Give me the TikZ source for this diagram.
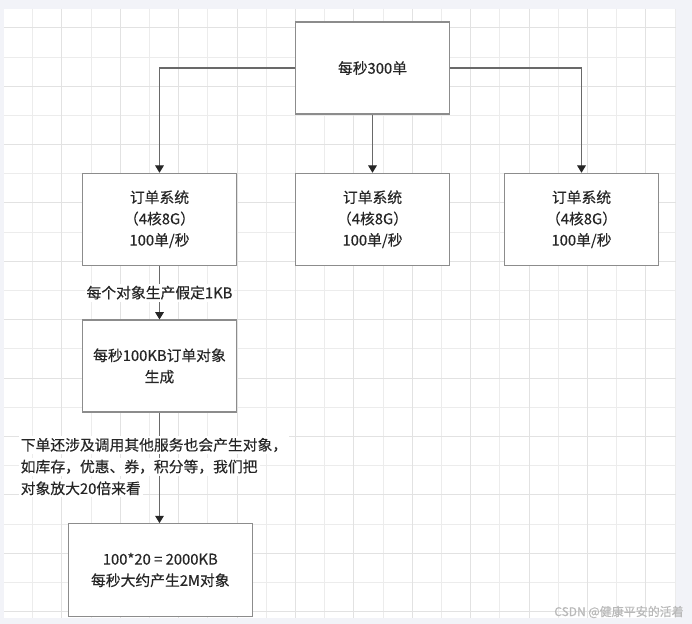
\documentclass[tikz,border=0pt]{standalone}
\usepackage{fontspec}
\setmainfont{Noto Sans CJK SC}[FakeBold=0.35]
\usepackage{tikz}
\usetikzlibrary{arrows.meta, positioning}
\definecolor{pagebg}{RGB}{242,243,248}
\definecolor{gridmin}{RGB}{236,236,236}
\definecolor{gridmaj}{RGB}{226,226,226}
\definecolor{boxline}{RGB}{140,140,140}
\definecolor{flowline}{RGB}{105,105,105}
\definecolor{txt}{RGB}{38,38,38}

\begin{document}
\begin{tikzpicture}[
    x=0.75pt, y=-0.75pt,
    every node/.style={font=\fontsize{11.1pt}{16pt}\selectfont, text=txt},
    box/.style={rectangle, draw=boxline, line width=0.8pt, fill=white, minimum width=115.5pt, minimum height=69pt, align=center, inner sep=2pt},
    lbl/.style={fill=white, inner sep=1.5pt, align=left},
    flow/.style={draw=flowline, line width=0.8pt, -{Triangle[length=5.5pt, width=6.5pt, color=txt]}},
    gridline/.style={line width=0.9pt},
]
% Canvas and grid
\useasboundingbox (0,0) rectangle (692,624);
\fill[pagebg] (0,0) rectangle (692,624);
\fill[white] (4,9) rectangle (676,618);
\foreach \k in {0,...,11} {\draw[gridline, gridmin] ({round(32.2+58.4*\k)+0.5},9) -- ++(0,609);}
\foreach \k in {0,...,9} {\draw[gridline, gridmin] (4,{round(56.5+58.4*\k)+0.5}) -- ++(672,0);}
\foreach \k in {1,...,11} {\draw[gridline, gridmaj] ({round(3+58.4*\k)+0.5},9) -- ++(0,609);}
\foreach \k in {0,...,10} {\draw[gridline, gridmaj] (4,{round(27.3+58.4*\k)+0.5}) -- ++(672,0);}

% Main flow
\node[box] (total) at (372.5,68) {每秒300单};
\node[box] (sys1) at (159.5,219.3) {订单系统\\（4核8G）\\100单/秒};
\node[box] (sys2) at (372.5,219.3) {订单系统\\（4核8G）\\100单/秒};
\node[box] (sys3) at (581.5,219.3) {订单系统\\（4核8G）\\100单/秒};
\node[box] (gen) at (159.5,366) {每秒100KB订单对象\\生成};
\node[box, minimum width=138pt, minimum height=69.5pt] (scaled) at (160.3,570) {100*20 = 2000KB\\每秒大约产生2M对象};

% Split over the three systems
\draw[flow] (total.west) -| (sys1.north);
\draw[flow] (total) -- (sys2);
\draw[flow] (total.east) -| (sys3.north);

% Object estimate
\draw[flow] (sys1) -- node[lbl] (perkb) {每个对象生产假定1KB} (gen);
\draw[flow] (gen.south) -- (gen.south |- scaled.north);
\node[lbl, anchor=west] (note1) at (18.5,445) {下单还涉及调用其他服务也会产生对象，};
\node[lbl, anchor=west] (note2) at (18.5,466.7) {如库存，优惠、券，积分等，我们把};
\node[lbl, anchor=west] (note3) at (18.5,488.3) {对象放大20倍来看};

\node[font=\fontsize{9pt}{10pt}\selectfont, text=gray!55, anchor=east, inner sep=0pt] (wm) at (684,612) {CSDN @健康平安的活着};
\end{tikzpicture}
\end{document}
